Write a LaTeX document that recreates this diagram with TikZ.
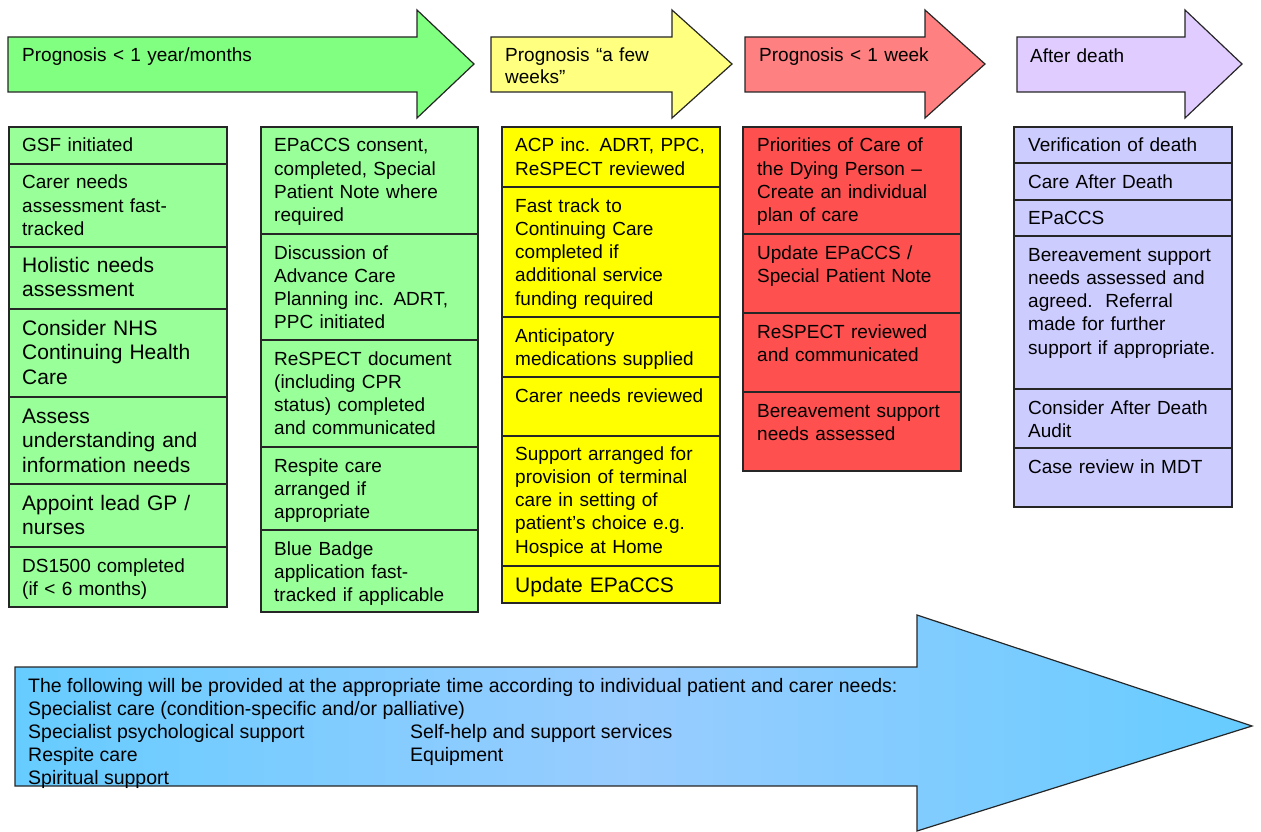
\documentclass[tikz,border=0pt]{standalone}
\usepackage{fontspec}
\setmainfont{Liberation Sans}
\usepackage{tikz}

\definecolor{arrgreen}{RGB}{128,255,128}
\definecolor{arryellow}{RGB}{255,255,128}
\definecolor{arrred}{RGB}{255,128,128}
\definecolor{arrlilac}{RGB}{224,204,255}
\definecolor{boxgreen}{RGB}{153,255,153}
\definecolor{boxyellow}{RGB}{255,255,0}
\definecolor{boxred}{RGB}{255,80,80}
\definecolor{boxlilac}{RGB}{204,204,255}
\definecolor{bandblue}{RGB}{102,204,255}
\definecolor{bandmid}{RGB}{153,204,255}

\tikzset{
  edge/.style={draw=black!85, line width=1.2pt},
  txt/.style={anchor=base west, align=left, inner sep=0pt, text width=205pt,
              font=\fontsize{19}{23.3}\selectfont},
  bigtxt/.style={txt, font=\fontsize{21}{24.8}\selectfont},
  headtxt/.style={txt, text width=390pt, font=\fontsize{19}{22}\selectfont},
  svc/.style={anchor=base west, inner sep=0pt, font=\fontsize{19.5}{23}\selectfont},
}

\begin{document}
\begin{tikzpicture}[x=1pt, y=-1pt]

       \useasboundingbox (0,0) rectangle (1261,832);

        % stage arrows
        \draw [edge, fill=arrgreen]  (8,37) -- (417,37) -- (417,10) -- (474,64) -- (417,118) -- (417,92) -- (8,92) -- cycle;
        \draw [edge, fill=arryellow] (491,37) -- (672,37) -- (672,10) -- (732,64) -- (672,118) -- (672,92) -- (491,92) -- cycle;
        \draw [edge, fill=arrred]    (745,37) -- (925,37) -- (925,10) -- (985,64) -- (925,118) -- (925,92) -- (745,92) -- cycle;
        \draw [edge, fill=arrlilac]  (1017,37) -- (1185,37) -- (1185,10) -- (1242,64) -- (1185,118) -- (1185,92) -- (1017,92) -- cycle;

        \node [headtxt] (hd1) at (22,62)   {Prognosis < 1 year/months};
        \node [headtxt] (hd2) at (505,62)  {Prognosis “a few\\weeks”};
        \node [headtxt] (hd3) at (759,62)  {Prognosis < 1 week};
        \node [headtxt] (hd4) at (1030,63) {After death};

        % column 1
        \draw [edge, fill=boxgreen] (9,127) rectangle (227,164);   \node [txt] (a1) at (22,152) {GSF initiated};
        \draw [edge, fill=boxgreen] (9,164) rectangle (227,247);   \node [txt] (a2) at (22,189) {Carer needs\\assessment fast-\\tracked};
        \draw [edge, fill=boxgreen] (9,247) rectangle (227,309);   \node [bigtxt] (a3) at (22,272) {Holistic needs\\assessment};
        \draw [edge, fill=boxgreen] (9,309) rectangle (227,397);   \node [bigtxt] (a4) at (22,335) {Consider NHS\\Continuing Health\\Care};
        \draw [edge, fill=boxgreen] (9,397) rectangle (227,484);   \node [bigtxt] (a5) at (22,423) {Assess\\understanding and\\information needs};
        \draw [edge, fill=boxgreen] (9,484) rectangle (227,547);   \node [bigtxt] (a6) at (22,510) {Appoint lead GP /\\nurses};
        \draw [edge, fill=boxgreen] (9,547) rectangle (227,607);   \node [txt] (a7) at (22,572) {DS1500 completed\\(if < 6 months)};

        % column 2
        \draw [edge, fill=boxgreen] (261,127) rectangle (478,234); \node [txt] (b1) at (274,152) {EPaCCS consent,\\completed, Special\\Patient Note where\\required};
        \draw [edge, fill=boxgreen] (261,234) rectangle (478,340); \node [txt] (b2) at (274,259) {Discussion of\\Advance Care\\Planning inc. ADRT,\\PPC initiated};
        \draw [edge, fill=boxgreen] (261,340) rectangle (478,447); \node [txt] (b3) at (274,365) {ReSPECT document\\(including CPR\\status) completed\\and communicated};
        \draw [edge, fill=boxgreen] (261,447) rectangle (478,530); \node [txt] (b4) at (274,472) {Respite care\\arranged if\\appropriate};
        \draw [edge, fill=boxgreen] (261,530) rectangle (478,612); \node [txt] (b5) at (274,555) {Blue Badge\\application fast-\\tracked if applicable};

        % column 3
        \draw [edge, fill=boxyellow] (502,127) rectangle (720,187); \node [txt] (c1) at (515,152) {ACP inc. ADRT, PPC,\\ReSPECT reviewed};
        \draw [edge, fill=boxyellow] (502,187) rectangle (720,317); \node [txt] (c2) at (515,212) {Fast track to\\Continuing Care\\completed if\\additional service\\funding required};
        \draw [edge, fill=boxyellow] (502,317) rectangle (720,377); \node [txt] (c3) at (515,342) {Anticipatory\\medications supplied};
        \draw [edge, fill=boxyellow] (502,377) rectangle (720,436); \node [txt] (c4) at (515,402) {Carer needs reviewed};
        \draw [edge, fill=boxyellow] (502,436) rectangle (720,566); \node [txt] (c5) at (515,460) {Support arranged for\\provision of terminal\\care in setting of\\patient’s choice e.g.\\Hospice at Home};
        \draw [edge, fill=boxyellow] (502,566) rectangle (720,603); \node [bigtxt] (c6) at (515,592) {Update EPaCCS};

        % column 4
        \draw [edge, fill=boxred] (743,127) rectangle (961,234); \node [txt] (d1) at (757,152) {Priorities of Care of\\the Dying Person –\\Create an individual\\plan of care};
        \draw [edge, fill=boxred] (743,234) rectangle (961,313); \node [txt] (d2) at (757,259) {Update EPaCCS /\\Special Patient Note};
        \draw [edge, fill=boxred] (743,313) rectangle (961,392); \node [txt] (d3) at (757,338) {ReSPECT reviewed\\and communicated};
        \draw [edge, fill=boxred] (743,392) rectangle (961,471); \node [txt] (d4) at (757,417) {Bereavement support\\needs assessed};

        % column 5
        \draw [edge, fill=boxlilac] (1014,127) rectangle (1232,163); \node [txt] (e1) at (1028,152) {Verification of death};
        \draw [edge, fill=boxlilac] (1014,163) rectangle (1232,200); \node [txt] (e2) at (1028,188) {Care After Death};
        \draw [edge, fill=boxlilac] (1014,200) rectangle (1232,236); \node [txt] (e3) at (1028,224) {EPaCCS};
        \draw [edge, fill=boxlilac] (1014,236) rectangle (1232,389); \node [txt] (e4) at (1028,261) {Bereavement support\\needs assessed and\\agreed.\ \ Referral\\made for further\\support if appropriate.};
        \draw [edge, fill=boxlilac] (1014,389) rectangle (1232,448); \node [txt] (e5) at (1028,414) {Consider After Death\\Audit};
        \draw [edge, fill=boxlilac] (1014,448) rectangle (1232,507); \node [txt] (e6) at (1028,473) {Case review in MDT};

        % services arrow
        \draw [edge, left color=bandblue, right color=bandblue, middle color=bandmid]
              (15,667) -- (917,667) -- (917,615) -- (1252,726) -- (917,831) -- (917,786) -- (15,786) -- cycle;

        \node [svc] (s0) at (28,692)  {The following will be provided at the appropriate time according to individual patient and carer needs:};
        \node [svc] (s1) at (28,715)  {Specialist care (condition-specific and/or palliative)};
        \node [svc] (s2) at (28,738)  {Specialist psychological support};
        \node [svc] (s3) at (28,761)  {Respite care};
        \node [svc] (s4) at (28,784)  {Spiritual support};
        \node [svc] (s5) at (410,738) {Self-help and support services};
        \node [svc] (s6) at (410,761) {Equipment};

     \end{tikzpicture}
\end{document}
